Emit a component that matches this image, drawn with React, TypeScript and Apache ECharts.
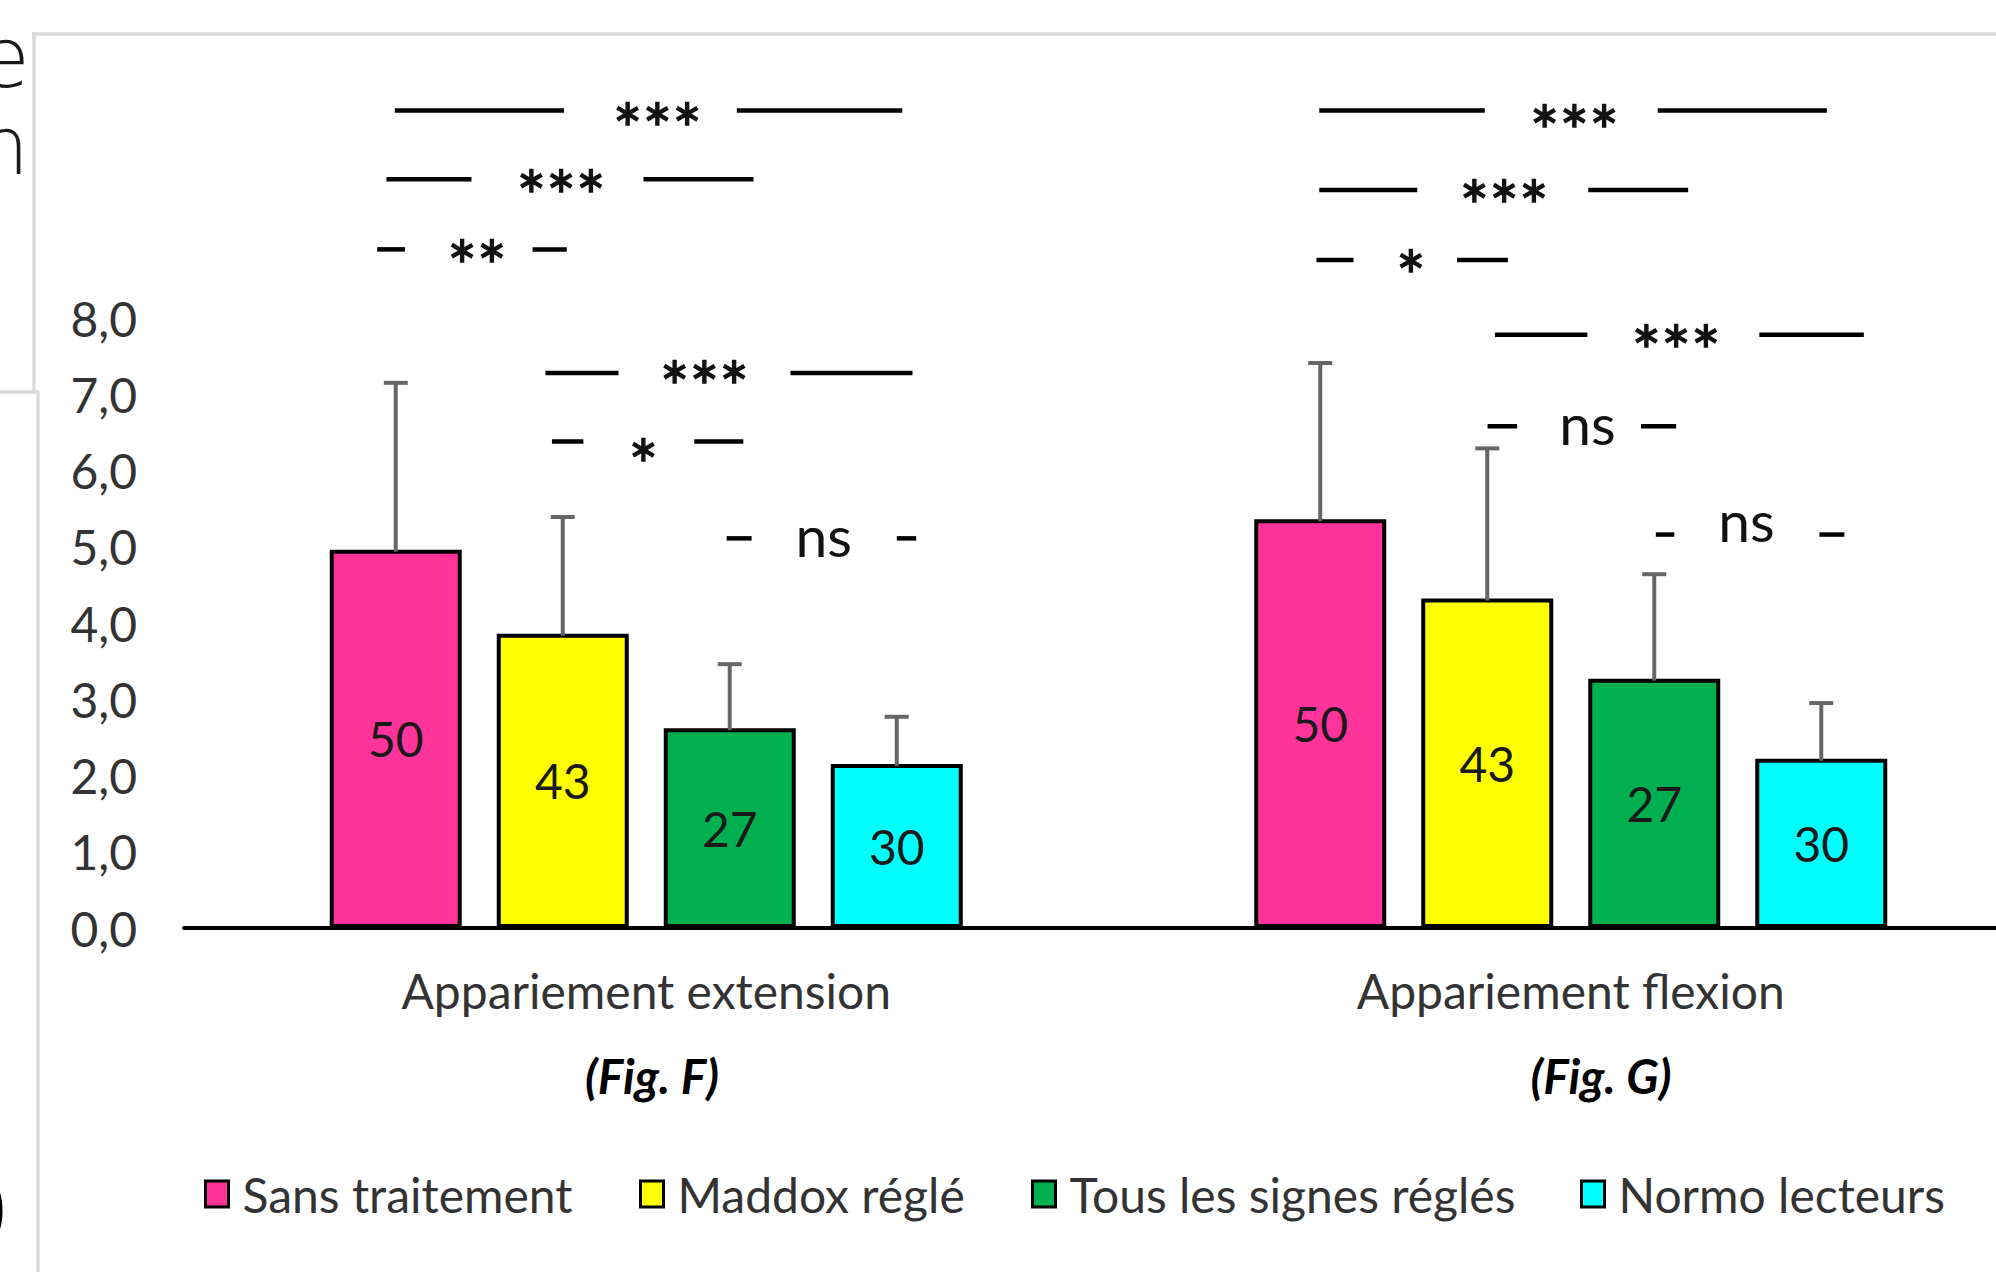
import React, { useEffect, useRef } from 'react';
import * as echarts from 'echarts';

// ---------- data ----------
const categories = ['Appariement extension', 'Appariement flexion'];
const figureLabels = ['(Fig. F)', '(Fig. G)'];
const seriesNames = ['Sans traitement', 'Maddox réglé', 'Tous les signes réglés', 'Normo lecteurs'];
const seriesColors = ['#FF3399', '#FFFF00', '#00B050', '#00FFFF'];

const sansTraitementMean = [4.96, 5.36];
const maddoxRegleMean = [3.86, 4.32];
const tousSignesReglesMean = [2.62, 3.27];
const normoLecteursMean = [2.15, 2.22];

const sansTraitementSD = [2.19, 2.05];
const maddoxRegleSD = [1.53, 1.97];
const tousSignesReglesSD = [0.84, 1.37];
const normoLecteursSD = [0.62, 0.73];

const sansTraitementN = [50, 50];
const maddoxRegleN = [43, 43];
const tousSignesReglesN = [27, 27];
const normoLecteursN = [30, 30];

const yMin = 0;
const yMax = 8;
const yInterval = 1;

// significance annotations (x in category units 0..2, y in axis units)
const sigLabels = ['***', '***', '**', '***', '*', 'ns', '***', '***', '*', '***', 'ns', 'ns'];
const sigLineY = [10.72, 9.82, 8.9, 7.28, 6.38, 5.11, 10.72, 9.68, 8.76, 7.78, 6.58, 5.16];
const sigTextY = [10.7, 9.82, 8.9, 7.31, 6.29, 5.11, 10.67, 9.68, 8.76, 7.78, 6.58, 5.31];
const sigLeftFrom = [0.228, 0.219, 0.209, 0.391, 0.398, 0.587, 1.228, 1.228, 1.225, 1.418, 1.41, 1.592];
const sigLeftTo = [0.411, 0.311, 0.239, 0.47, 0.432, 0.614, 1.407, 1.334, 1.265, 1.518, 1.442, 1.612];
const sigRightFrom = [0.598, 0.497, 0.377, 0.656, 0.552, 0.771, 1.594, 1.519, 1.377, 1.704, 1.576, 1.769];
const sigRightTo = [0.777, 0.616, 0.414, 0.788, 0.605, 0.792, 1.777, 1.627, 1.432, 1.817, 1.614, 1.796];
const sigTextX = [0.512, 0.408, 0.317, 0.563, 0.497, 0.692, 1.504, 1.428, 1.327, 1.614, 1.518, 1.69];

// ---------- styles ----------
const FONT = 'Lato, "Noto Sans", sans-serif';
const FS = 48;
const STAR_FS = 70;
const NS_FS = 57;
const TEXT_COLOR = '#333333';
const ERR_COLOR = '#666666';
const BAR_W = 132;
const BAR_GAP = 35;
const CAP_HALF = 12;
const PAGE_W = 1996;
const PAGE_H = 1272;
const CHART_W = 2040;

const means = [sansTraitementMean, maddoxRegleMean, tousSignesReglesMean, normoLecteursMean];
const sds = [sansTraitementSD, maddoxRegleSD, tousSignesReglesSD, normoLecteursSD];
const counts = [sansTraitementN, maddoxRegleN, tousSignesReglesN, normoLecteursN];

const barOffset = (s: number) => {
  const n = seriesNames.length;
  const total = n * BAR_W + (n - 1) * BAR_GAP;
  return -total / 2 + s * (BAR_W + BAR_GAP) + BAR_W / 2;
};

const legendLeft = [204, 639, 1031, 1580];

export default function App() {
  const ref = useRef<HTMLDivElement>(null);

  useEffect(() => {
    const chart = echarts.init(ref.current as HTMLDivElement, null, { renderer: 'svg' });

    const barSeries = seriesNames.map((name, s) => ({
      type: 'bar',
      name,
      data: means[s],
      xAxisIndex: 0,
      yAxisIndex: 0,
      barWidth: BAR_W,
      barGap: `${(BAR_GAP / BAR_W) * 100}%`,
      itemStyle: { color: seriesColors[s], borderColor: '#000000', borderWidth: 4 },
      label: {
        show: true,
        position: 'inside',
        formatter: (p: any) => String(counts[s][p.dataIndex]),
        fontSize: FS,
        fontFamily: FONT,
        color: '#1a1a1a',
      },
      emphasis: { disabled: true },
      silent: true,
    }));

    const errorData: number[][] = [];
    seriesNames.forEach((_, s) => {
      categories.forEach((__, c) => {
        errorData.push([c, means[s][c], sds[s][c], s]);
      });
    });

    const errorSeries = {
      type: 'custom',
      name: 'errors',
      xAxisIndex: 0,
      yAxisIndex: 0,
      z: 5,
      silent: true,
      data: errorData,
      renderItem: (_params: any, api: any) => {
        const c = api.value(0);
        const m = api.value(1);
        const sd = api.value(2);
        const s = api.value(3);
        const base = api.coord([c, m]);
        const top = api.coord([c, m + sd]);
        const x = base[0] + barOffset(s);
        return {
          type: 'group',
          children: [
            {
              type: 'line',
              shape: { x1: x, y1: base[1] + 2, x2: x, y2: top[1] },
              style: { stroke: ERR_COLOR, lineWidth: 4 },
            },
            {
              type: 'line',
              shape: { x1: x - CAP_HALF, y1: top[1], x2: x + CAP_HALF, y2: top[1] },
              style: { stroke: ERR_COLOR, lineWidth: 4 },
            },
          ],
        };
      },
    };

    const sigSeries = {
      type: 'custom',
      name: 'significance',
      xAxisIndex: 1,
      yAxisIndex: 0,
      z: 6,
      clip: false,
      silent: true,
      data: sigLabels.map((_, i) => [sigLeftFrom[i], sigLineY[i]]),
      renderItem: (params: any, api: any) => {
        const i = params.dataIndex;
        const a = api.coord([sigLeftFrom[i], sigLineY[i]]);
        const b = api.coord([sigLeftTo[i], sigLineY[i]]);
        const c = api.coord([sigRightFrom[i], sigLineY[i]]);
        const d = api.coord([sigRightTo[i], sigLineY[i]]);
        const t = api.coord([sigTextX[i], sigTextY[i]]);
        const label = sigLabels[i];
        const isStar = label.indexOf('*') >= 0;
        const fs = isStar ? STAR_FS : NS_FS;
        const glyphShift = isStar ? fs * 0.22 : -fs * 0.06;
        return {
          type: 'group',
          children: [
            { type: 'line', shape: { x1: a[0], y1: a[1], x2: b[0], y2: b[1] }, style: { stroke: '#000', lineWidth: 4.5 } },
            { type: 'line', shape: { x1: c[0], y1: c[1], x2: d[0], y2: d[1] }, style: { stroke: '#000', lineWidth: 4.5 } },
            {
              type: 'text',
              x: t[0],
              y: t[1] + glyphShift,
              style: {
                text: label,
                fontSize: fs,
                fontFamily: FONT,
                fill: '#111',
                stroke: isStar ? '#111' : undefined,
                lineWidth: isStar ? 1.3 : 0,
                align: 'center',
                verticalAlign: 'middle',
              },
            },
          ],
        };
      },
    };

    const frame = { stroke: '#d9d9d9', lineWidth: 3.5 };

    const option: any = {
      animation: false,
      backgroundColor: '#ffffff',
      grid: { left: 184, right: CHART_W - 2033, top: 318, bottom: 344, containLabel: false },
      xAxis: [
        {
          type: 'category',
          data: categories,
          axisLine: { show: true, lineStyle: { color: '#000', width: 4 } },
          axisTick: { show: false },
          splitLine: { show: false },
          axisLabel: { fontSize: FS, fontFamily: FONT, color: TEXT_COLOR, margin: 38 },
        },
        { type: 'value', min: 0, max: 2, show: false },
      ],
      yAxis: {
        type: 'value',
        min: yMin,
        max: yMax,
        interval: yInterval,
        axisLine: { show: false },
        axisTick: { show: false },
        splitLine: { show: false },
        axisLabel: {
          fontSize: FS,
          fontFamily: FONT,
          color: TEXT_COLOR,
          margin: 47,
          formatter: (v: number) => v.toFixed(1).replace('.', ','),
        },
      },
      legend: seriesNames.map((name, s) => ({
        data: [name],
        left: legendLeft[s],
        top: 1170,
        padding: 0,
        itemWidth: 23,
        itemHeight: 26,
        icon: 'rect',
        selectedMode: false,
        itemStyle: { borderWidth: 3, borderColor: '#000' },
        textStyle: { fontSize: FS, fontFamily: FONT, color: TEXT_COLOR, padding: [0, 0, 0, 9] },
      })),
      graphic: [
        { type: 'line', shape: { x1: 32, y1: 34, x2: PAGE_W, y2: 34 }, style: frame },
        { type: 'line', shape: { x1: 34, y1: 32, x2: 34, y2: 393 }, style: frame },
        { type: 'line', shape: { x1: 0, y1: 392, x2: 39, y2: 392 }, style: frame },
        { type: 'line', shape: { x1: 38, y1: 391, x2: 38, y2: PAGE_H }, style: frame },
        {
          type: 'text', x: 30, y: 58,
          style: { text: 'e', align: 'right', verticalAlign: 'middle', fontSize: 84, fontFamily: '"DejaVu Sans"', fontWeight: 200, fill: '#1a1a1a' },
        },
        {
          type: 'text', x: 29, y: 146,
          style: { text: 'n', align: 'right', verticalAlign: 'middle', fontSize: 80, fontFamily: '"DejaVu Sans"', fontWeight: 200, fill: '#1a1a1a' },
        },
        {
          type: 'text', x: 6, y: 1205,
          style: { text: ')', align: 'right', verticalAlign: 'middle', fontSize: 80, fontFamily: FONT, fill: '#000' },
        },
        {
          type: 'text', x: 652, y: 1075,
          style: { text: figureLabels[0], align: 'center', verticalAlign: 'middle', fontSize: FS, fontFamily: FONT, fontWeight: 'bold', fontStyle: 'italic', fill: '#000' },
        },
        {
          type: 'text', x: 1601, y: 1075,
          style: { text: figureLabels[1], align: 'center', verticalAlign: 'middle', fontSize: FS, fontFamily: FONT, fontWeight: 'bold', fontStyle: 'italic', fill: '#000' },
        },
      ],
      series: [...barSeries, errorSeries, sigSeries],
    };

    chart.setOption(option);
    return () => chart.dispose();
  }, []);

  return (
    <div
      style={{ position: 'fixed', left: 0, top: 0, width: PAGE_W, height: PAGE_H, overflow: 'hidden', background: '#ffffff' }}
    >
      <div ref={ref} style={{ width: CHART_W, height: PAGE_H }} />
    </div>
  );
}
